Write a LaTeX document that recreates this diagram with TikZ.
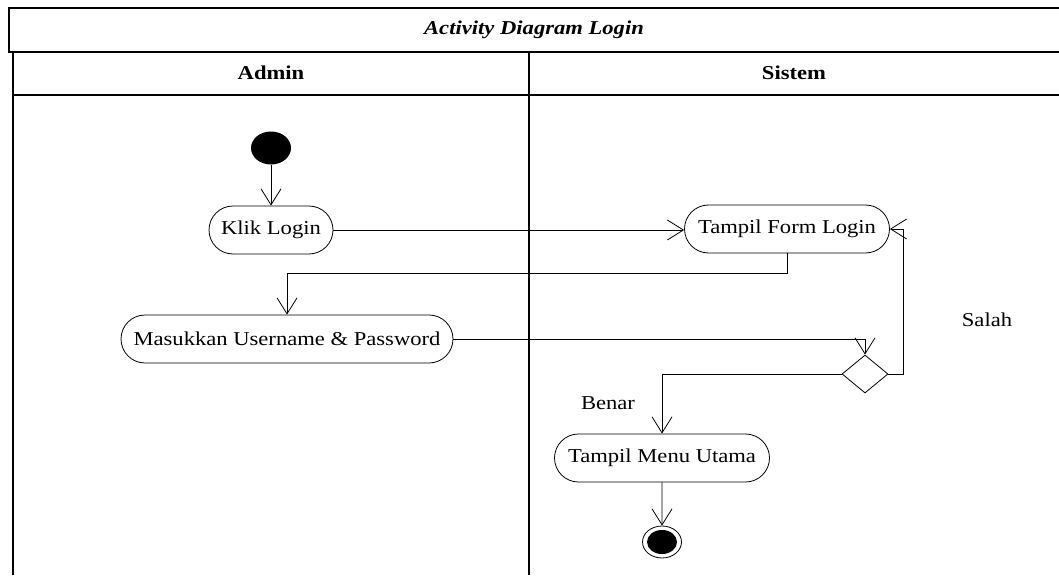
\documentclass[tikz,border=0pt]{standalone}
\usepackage{fontspec}
\setmainfont{Liberation Serif}
\usetikzlibrary{arrows.meta,shapes.misc,shapes.geometric}
% text is set slightly flattened
\newcommand{\squashtxt}[1]{\scalebox{1}[0.87]{#1}}

\begin{document}
\begin{tikzpicture}[x=1pt,y=-1pt,
  frame/.style={line width=1.4pt},
  txt/.style={font=\fontsize{22.6}{26}\selectfont, inner sep=0pt},
  act/.style={draw, rounded rectangle, minimum height=48pt, inner sep=0pt,
    line width=0.8pt, font=\fontsize{22.6}{26}\selectfont},
  flow/.style={line width=0.8pt,
    -{Straight Barb[length=16pt,width=20pt,line width=0.8pt]}}
]
\useasboundingbox (0,0) rectangle (1059,575);

% swimlane frame
\draw[frame] (1059,8) -- (9,8) -- (9,52) -- (1059,52);
\draw[frame] (13,575) -- (13,52);
\draw[frame] (13,95) -- (1059,95);
\draw[frame] (529,52) -- (529,575);

\node[txt, font=\fontsize{22.6}{26}\selectfont\bfseries\itshape] (title) at (534,30) {\squashtxt{Activity Diagram Login}};
\node[txt, font=\fontsize{22.6}{26}\selectfont\bfseries] (admin) at (271,73) {\squashtxt{Admin}};
\node[txt, font=\fontsize{22.6}{26}\selectfont\bfseries] (sistem) at (794,73) {\squashtxt{Sistem}};

% activities
\node[ellipse, fill, minimum width=40pt, minimum height=33pt, inner sep=0pt] (start) at (271,148) {};
\node[act, minimum width=124pt] (klik) at (271,230) {\squashtxt{Klik Login}};
\node[act, minimum width=205pt] (form) at (787,229) {\squashtxt{Tampil Form Login}};
\node[act, minimum width=332pt] (masuk) at (287,339) {\squashtxt{Masukkan Username \& Password}};
\node[diamond, draw, line width=0.8pt, minimum width=46pt, minimum height=38pt, inner sep=0pt] (dec) at (865,374) {};
\node[act, minimum width=215pt] (menu) at (662,458) {\squashtxt{Tampil Menu Utama}};
\node[ellipse, draw, line width=0.8pt, minimum width=39pt, minimum height=32pt, inner sep=0pt] (end) at (662,542) {};
\node[ellipse, fill, minimum width=30pt, minimum height=24pt, inner sep=0pt] (endin) at (end.center) {};

\node[txt] (benar) at (608,403) {\squashtxt{Benar}};
\node[txt] (salah) at (987,320) {\squashtxt{Salah}};

% control flow
\draw[flow] (start) -- (klik);
\draw[flow] (klik.east) -- (klik.east -| form.west);
\draw[flow] (form.south) -- ++(0,20) -| (masuk.north);
\draw[flow] (masuk.east) -| (dec.north);
\draw[flow] (dec.east) -- ++(15,0) |- (form.east);
\draw[flow] (dec.west) -| (menu.north);
\draw[flow] (menu) -- (end);
\end{tikzpicture}
\end{document}
